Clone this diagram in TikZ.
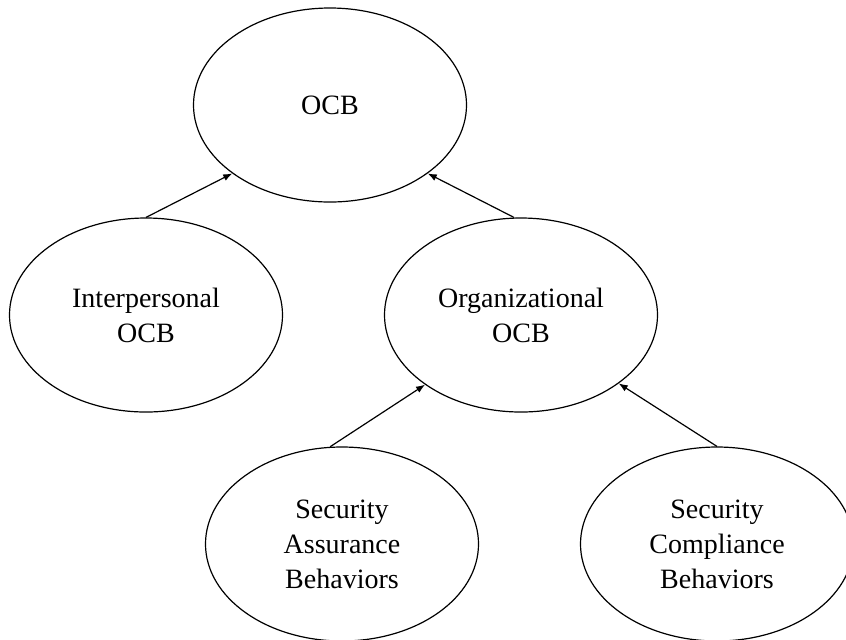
\documentclass[tikz,border=0pt]{standalone}
\usepackage{fontspec}
\setmainfont{Liberation Serif}
\usetikzlibrary{shapes.geometric,arrows.meta}

\begin{document}
\begin{tikzpicture}[x=0.5pt, y=-0.5pt, every node/.style={ellipse, draw, line width=0.6pt, minimum width=136.5pt, minimum height=97pt, inner sep=0pt, align=center, font=\fontsize{14}{17.5}\selectfont}, link/.style={-{Latex[length=4.5pt,width=3.5pt]}, line width=0.6pt}]
  \useasboundingbox (0,0) rectangle (846,639);
  \node(ocb) at (330,105) {OCB};
  \node(inter) at (146,315) {Interpersonal\\OCB};
  \node(org) at (521,315) {Organizational\\OCB};
  \node(assur) at (342,544) {Security\\Assurance\\Behaviors};
  \node(compl) at (717,544) {Security\\Compliance\\Behaviors};
  \draw[link] (inter.north) -- (ocb.215);
  \draw[link] (org.94) -- (ocb.325);
  \draw[link] (assur.97) -- (org.216);
  \draw[link] (compl.north) -- (org.325);
\end{tikzpicture}
\end{document}
